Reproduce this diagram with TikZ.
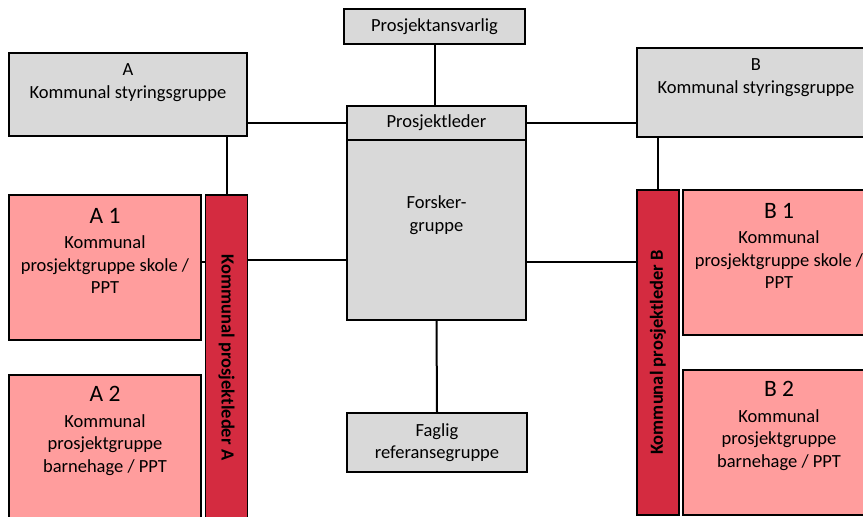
\documentclass[tikz,border=0pt]{standalone}
\usepackage{fontspec}
\setmainfont{Carlito}
\usepackage{tikz}
\usetikzlibrary{positioning}
\definecolor{boxgrey}{RGB}{217,217,217}
\definecolor{grpred}{RGB}{255,157,157}
\definecolor{ledred}{RGB}{212,43,64}

\begin{document}
\begin{tikzpicture}[x=1pt,y=-1pt,
  box/.style={draw=black,line width=1.8pt,fill=boxgrey,inner sep=0pt,font=\fontsize{18.5}{22.5}\selectfont,align=center},
  grp/.style={box,fill=grpred,minimum width=192pt,minimum height=145pt},
  bar/.style={box,fill=ledred,minimum width=42pt,minimum height=325pt,font=\fontsize{18.5}{22.5}\selectfont\bfseries},
  txt/.style={font=\fontsize{18.5}{22.5}\selectfont,align=center,inner sep=0pt},
  lnk/.style={black,line width=2pt}]
\clip (0,0) rectangle (863,517);
\fill[white] (0,0) rectangle (863,517);

% midten
\node[box,minimum width=181pt,minimum height=35pt] (ansv) at (434.5,26.5) {Prosjektansvarlig};
\node[box,minimum width=179pt,minimum height=180pt] (forsk) at (436.5,230) {};
\node[box,minimum width=179pt,minimum height=34pt] (leder) at (436.5,123) {Prosjektleder};
\node[txt] (forskT) at ([yshift=15pt]forsk.center) {Forsker-\\gruppe};
\node[box,minimum width=180pt,minimum height=59pt] (fagl) at (437,442.5) {Faglig\\referansegruppe};

% kommune A
\node[box,minimum width=238pt,minimum height=83pt] (styrA) at (128,94.5) {};
\node[txt] (styrAT) at ([yshift=12pt]styrA.center) {A\\Kommunal styringsgruppe};
\node[bar] (barA) at (226.5,357.5) {\rotatebox{-90}{Kommunal prosjektleder A}};
\node[grp] (grpA1) at (105,267.5) {};
\node[txt] (grpA1T) at ([yshift=16.5pt]grpA1.center) {{\fontsize{23.5}{26}\selectfont A 1}\\[3pt]Kommunal\\prosjektgruppe skole /\\PPT};
\node[grp] (grpA2) at (105,447.5) {};
\node[txt] (grpA2T) at ([yshift=16.5pt]grpA2.center) {{\fontsize{23.5}{26}\selectfont A 2}\\[3pt]Kommunal\\prosjektgruppe\\barnehage / PPT};

% kommune B
\node[box,minimum width=238pt,minimum height=89pt] (styrB) at (756,92.5) {};
\node[txt] (styrBT) at ([yshift=15pt]styrB.center) {B\\Kommunal styringsgruppe};
\node[bar] (barB) at (658,352.5) {\rotatebox{90}{Kommunal prosjektleder B}};
\node[grp] (grpB1) at (779,262.5) {};
\node[txt] (grpB1T) at ([yshift=16.5pt]grpB1.center) {{\fontsize{23.5}{26}\selectfont B 1}\\[3pt]Kommunal\\prosjektgruppe skole /\\PPT};
\node[grp] (grpB2) at (779,442.5) {};
\node[txt] (grpB2T) at ([yshift=16.5pt]grpB2.center) {{\fontsize{23.5}{26}\selectfont B 2}\\[3pt]Kommunal\\prosjektgruppe\\barnehage / PPT};

\draw[lnk] (ansv.south) -- (ansv.south |- leder.north);
\draw[lnk] (leder.west) -- (leder.west -| styrA.east);
\draw[lnk] (leder.east) -- (leder.east -| styrB.west);
\draw[lnk] (barA.north) -- (barA.north |- styrA.south);
\draw[lnk] (barB.north) -- (barB.north |- styrB.south);
\draw[lnk] ([yshift=6pt]grpA1.east) -- ([yshift=6pt]grpA1.east -| barA.west);
\draw[lnk] ([yshift=-30pt]forsk.west) -- ([yshift=-30pt]forsk.west -| barA.east);
\draw[lnk] ([yshift=-32pt]forsk.east) -- ([yshift=-32pt]forsk.east -| barB.west);
\draw[lnk] (forsk.south) -- (fagl.north);
\end{tikzpicture}
\end{document}
